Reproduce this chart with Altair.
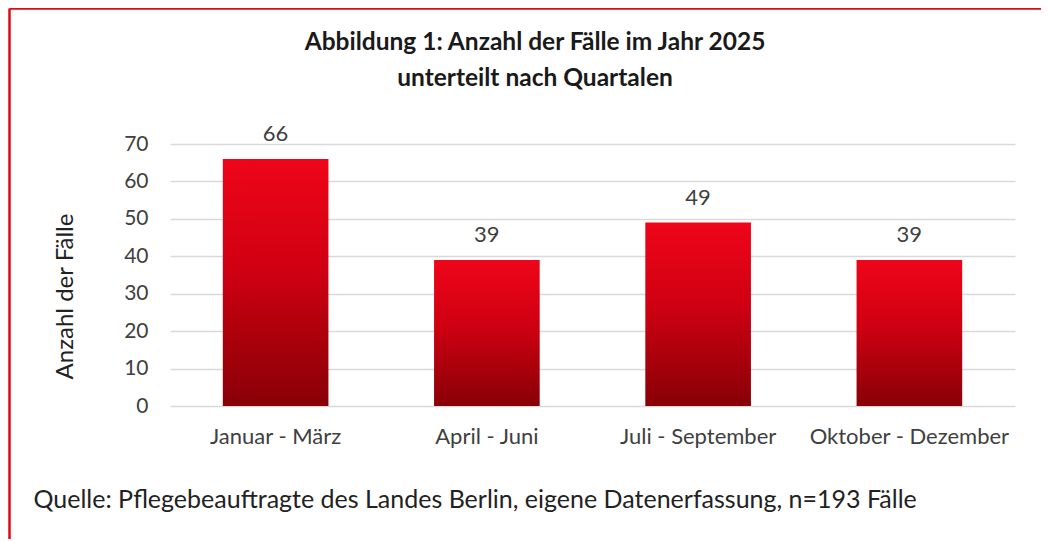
import altair as alt
import pandas as pd

quartale = ["Januar - März", "April - Juni", "Juli - September", "Oktober - Dezember"]
faelle = [66, 39, 49, 39]
y_ticks = [0, 10, 20, 30, 40, 50, 60, 70]
title_lines = ["Abbildung 1: Anzahl der Fälle im Jahr 2025", "unterteilt nach Quartalen"]
y_title = "Anzahl der Fälle"
quelle = "Quelle: Pflegebeauftragte des Landes Berlin, eigene Datenerfassung, n=193 Fälle"

df = pd.DataFrame({"Quartal": quartale, "Faelle": faelle})

FONT = "Lato"
TXT = "#404040"

x_enc = alt.X(
    "Quartal:N", sort=quartale,
    scale=alt.Scale(paddingInner=0.5, paddingOuter=0.25),
    axis=alt.Axis(
        title=quelle, titleX=-137, titleY=93, titleAlign="left", titleBaseline="middle",
        titleFont=FONT, titleFontSize=25, titleFontWeight="normal", titleColor="#222222",
        labelAngle=0, labelFont=FONT, labelFontSize=22, labelColor=TXT, labelPadding=20,
        labelLimit=400, domain=False, ticks=False, grid=False,
    ),
)
y_enc = alt.Y(
    "Faelle:Q", scale=alt.Scale(domain=[0, 70], nice=False),
    axis=alt.Axis(
        values=y_ticks, title=y_title, titleX=-105, titleY=152, titleAlign="center",
        titleBaseline="middle", titleFont=FONT, titleFontSize=24, titleFontWeight="normal",
        titleColor="#222222", labelFont=FONT, labelFontSize=21, labelColor=TXT,
        labelPadding=22, domain=False, ticks=False, grid=True, gridColor="#D9D9D9",
        gridWidth=1.5,
    ),
)

grad = alt.Gradient(
    gradient="linear", x1=0, y1=0, x2=0, y2=1,
    stops=[alt.GradientStop(color="#EF0519", offset=0),
           alt.GradientStop(color="#CF0012", offset=0.45),
           alt.GradientStop(color="#880006", offset=1)],
)

base = alt.Chart(df).encode(x=x_enc, y=y_enc)
bars = base.mark_bar(color=grad)
labels = base.mark_text(
    baseline="bottom", dy=-13, font=FONT, fontSize=22, color=TXT
).encode(text="Faelle:Q")

frame = alt.Data(values=[{"k": 1}])
title_layers = []
for i, line in enumerate(title_lines):
    title_layers.append(
        alt.Chart(frame).mark_text(
            font=FONT, fontSize=24.5, fontWeight="bold", color="#1a1a1a",
            baseline="middle", align="center",
        ).encode(x=alt.value(365), y=alt.value([-101, -65][i]), text=alt.value(line))
    )

left_line = alt.Chart(frame).mark_rule(color="#E30613", strokeWidth=2.5).encode(
    x=alt.value(-160.5), y=alt.value(-135.5), y2=alt.value(400))
top_line = alt.Chart(frame).mark_rule(color="#E30613", strokeWidth=2.5).encode(
    x=alt.value(-160.5), x2=alt.value(880), y=alt.value(-135.5))

chart = alt.layer(bars, labels, *title_layers, left_line, top_line).properties(
    width=845, height=262,
    autosize=alt.AutoSizeParams(type="none"),
    padding={"left": 162, "top": 136, "right": 26, "bottom": 133},
).configure_view(stroke=None)

chart.save("out.html", embed_options={"renderer": "svg", "actions": False})
